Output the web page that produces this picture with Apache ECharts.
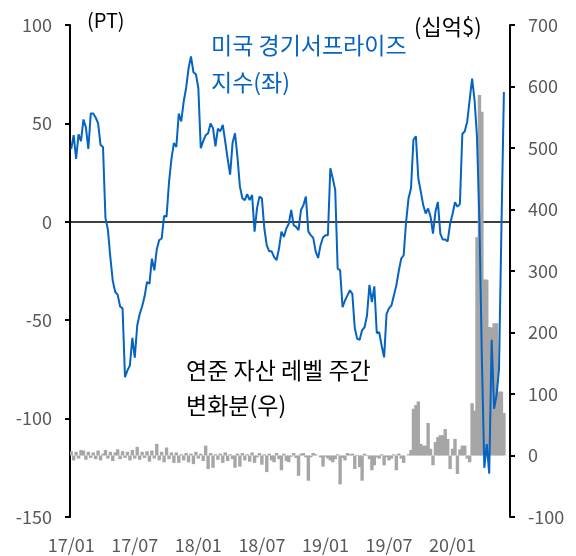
<!DOCTYPE html>
<html>
<head>
<meta charset="utf-8">
<script src="https://cdn.jsdelivr.net/npm/echarts/dist/echarts.min.js"></script>
<style>
  html, body { margin: 0; padding: 0; background: #fff; }
  #chart { width: 576px; height: 556px; }
</style>
</head>
<body>
<div id="chart"></div>
<script>
// weekly categories, 2017-01-06 onward
var weeks = []
for (let i = 0; i < 180; i++) {
  const d = new Date(2017, 0, 6 + i * 7)
  const yy = String(d.getFullYear()).slice(2)
  const mm = String(d.getMonth() + 1).padStart(2, '0')
  weeks.push(yy + '/' + mm)
}
var tickIndex = [0, 26, 52, 78, 104, 130, 156]

// US economic surprise index (left axis, PT)
var surpriseIndex = [
  37, 44, 32, 44.5, 41, 52, 48, 37, 55, 55,
  53, 50, 39, 38, 2, -4, -18, -30, -35.7, -37,
  -43, -44, -79, -75.5, -73, -59, -69, -52.7, -47, -43,
  -38, -30.6, -31.5, -18.7, -24.7, -14, -9.3, -8.5, 3, 2.6,
  20, 32, 40, 38, 55, 51, 61, 68, 78, 84,
  76, 75, 68, 37.4, 41, 44, 45, 50, 47.6, 38.3,
  47.3, 46, 49.3, 40.8, 32, 24, 40, 45, 33, 18,
  12, 11, 14, 11, 13.6, -5, 6.8, 12.8, 11.9, -3.4,
  -12, -15, -15, -18, -19.5, -13.6, -5, -7.7, -3.4, -1,
  6, -1.7, -2.6, -4.2, 6, 8.5, 12.8, -5, -6.8, -8.2,
  -15, -18.4, -11.9, -8, -6.8, -6.8, 27.2, 22, 16.2, -23.8,
  -24.6, -43.4, -40, -37.4, -34.8, -36.6, -54, -59.5, -59.9, -55,
  -53.6, -47.6, -32, -40.8, -32.8, -56.5, -56.1, -63, -68.9, -46.8,
  -44, -42.5, -37.4, -32.3, -25, -18.7, -17, 0, 12, 17,
  41.7, 43.4, 22, 15.3, 8.5, 4.2, 6.8, 2.6, -6, 5.1,
  10, -6, -9, -9, -10, -1, 4, 9.9, 7.7, 9,
  44.6, 46, 51, 62, 72.8, 62, 43, 0, -70, -125,
  -113, -128, -60, -95, -88, -75, -3, 66
]

// weekly change of Fed asset level (right axis, bn $)
var fedAssetChange = [
  7, -8, 6, -5, 9, 8, -7, 6, -4, 5,
  -6, 8, -8, 3, 9, -5, 6, -9, 5, 10,
  -6, 7, -4, 6, -8, 9, -5, 14, -7, 6,
  -4, 7, -10, 8, -5, 19, -8, 6, -11, 13,
  -6, 5, -12, 5, -12, 2, -8, 4, -11, 3,
  -14, 6, -5, 3, -9, 16, -22, 4, -20, 2,
  -7, 3, -12, 5, -9, 2, -6, -20, 3, -18,
  4, -8, 2, -10, 5, -12, -3, 4, -15, 2,
  -27, 3, -8, -11, 4, -6, -24, 3, -9, -11,
  -2, 4, -4, -33, 3, 4, -3, -41, -3, 4,
  2, 0, -3, -18, -2, -5, -8, -11, -6, 2,
  -47, -4, -8, 4, 2, 3, -22, 1, -19, -41,
  3, 1, -6, -24, -16, -3, -5, 2, -16, -3,
  -8, -5, 2, -24, 3, -5, -12, 0, 2, 9,
  76, 82, 88, 19, 16, 16, 53, 11, -16, 22,
  30, 33, 33, 43, 27, -22, 11, 27, -30, 10,
  16, 16, -5, -11, 85, 73, 355, 586, 559, 286,
  286, 209, 208, 215, 215, 104, 104, 69
]

var myChart = echarts.init(document.getElementById('chart'), null, { renderer: 'canvas' })
var font = '"Noto Sans CJK KR", "Noto Sans", sans-serif'
var axisText = { color: '#595959', fontSize: 18, fontFamily: font }

var option = {
  animation: false,
  grid: { left: 70, right: 66, top: 25, bottom: 39, outerBoundsMode: 'none' },
  xAxis: [
    {
      type: 'category',
      data: weeks,
      boundaryGap: true,
      axisLine: { onZero: true, lineStyle: { color: '#000', width: 1.5 } },
      axisTick: {
        alignWithLabel: true,
        length: 6,
        interval: function(i) { return tickIndex.indexOf(i) >= 0 },
        lineStyle: { color: '#000', width: 1.5 }
      },
      axisLabel: { show: false },
      splitLine: { show: false }
    },
    {
      type: 'category',
      data: weeks,
      position: 'bottom',
      boundaryGap: true,
      axisLine: { show: false, onZero: false },
      axisTick: { show: false },
      axisLabel: Object.assign({
        margin: 19,
        interval: function(i) { return tickIndex.indexOf(i) >= 0 }
      }, axisText),
      splitLine: { show: false }
    }
  ],
  yAxis: [
    {
      type: 'value',
      position: 'left',
      min: -150,
      max: 100,
      interval: 50,
      axisLine: { show: true, lineStyle: { color: '#000', width: 2 } },
      axisTick: { show: true, length: 5, lineStyle: { color: '#000', width: 2 } },
      axisLabel: Object.assign({ margin: 18 }, axisText),
      splitLine: { show: false }
    },
    {
      type: 'value',
      position: 'right',
      min: -100,
      max: 700,
      interval: 100,
      axisLine: { show: true, lineStyle: { color: '#000', width: 2 } },
      axisTick: { show: true, length: 5, lineStyle: { color: '#000', width: 2 } },
      axisLabel: Object.assign({ margin: 18 }, axisText),
      splitLine: { show: false }
    }
  ],
  series: [
    {
      name: '연준 자산 레벨 주간 변화분(우)',
      type: 'bar',
      xAxisIndex: 0,
      yAxisIndex: 1,
      data: fedAssetChange,
      barWidth: 3.4,
      itemStyle: { color: '#A6A6A6' },
      z: 1
    },
    {
      name: '미국 경기서프라이즈 지수(좌)',
      type: 'line',
      xAxisIndex: 0,
      yAxisIndex: 0,
      data: surpriseIndex,
      showSymbol: false,
      lineStyle: { color: '#0563C1', width: 2 },
      itemStyle: { color: '#0563C1' },
      z: 3
    }
  ],
  graphic: [
    { type: 'text', x: 87, y: 20, style: { text: '(PT)', fill: '#000', font: '20px ' + font, verticalAlign: 'middle' } },
    { type: 'text', x: 414, y: 27, style: { text: '(십억$)', fill: '#000', font: '22px ' + font, verticalAlign: 'middle' } },
    { type: 'text', x: 211, y: 45, style: { text: '미국 경기서프라이즈', fill: '#0563C1', font: '23px ' + font, verticalAlign: 'middle' } },
    { type: 'text', x: 211, y: 82, style: { text: '지수(좌)', fill: '#0563C1', font: '23px ' + font, verticalAlign: 'middle' } },
    { type: 'text', x: 186, y: 370, style: { text: '연준 자산 레벨 주간', fill: '#000', font: '23px ' + font, verticalAlign: 'middle' } },
    { type: 'text', x: 186, y: 405, style: { text: '변화분(우)', fill: '#000', font: '23px ' + font, verticalAlign: 'middle' } }
  ]
}

option && myChart.setOption(option)
</script>
</body>
</html>
